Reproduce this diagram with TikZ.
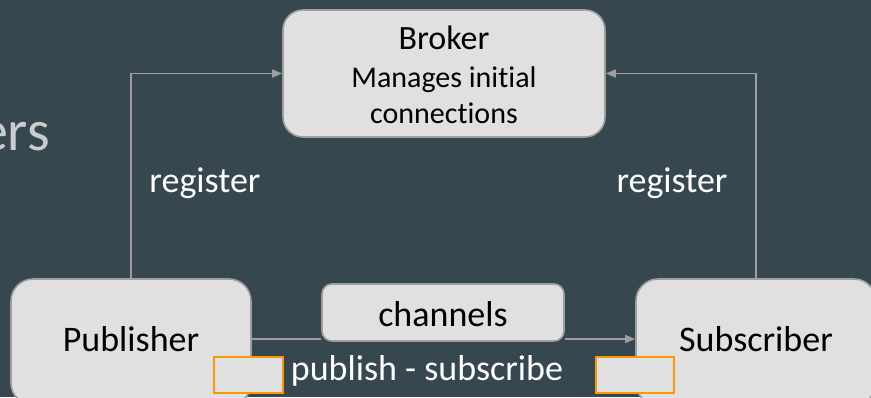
\documentclass[tikz,border=0pt]{standalone}
\usepackage{fontspec}
\setmainfont[Ligatures=NoCommon]{Carlito}
\usetikzlibrary{arrows.meta}
\definecolor{slate}{RGB}{55,71,79}
\definecolor{boxfill}{RGB}{224,224,224}
\definecolor{boxline}{RGB}{158,158,158}
\definecolor{faint}{RGB}{200,204,206}
\definecolor{accent}{RGB}{255,152,0}
\tikzset{
  card/.style={draw=boxline, fill=boxfill, line width=1.6pt, inner sep=0pt},
  conn/.style={draw=boxline, line width=1.5pt, -{Triangle[length=10pt,width=8pt]}},
  plain/.style={draw=boxline, line width=1.5pt},
  dark/.style={text=black, inner sep=0pt, anchor=base},
  light/.style={text=white, inner sep=0pt, anchor=base},
  marker/.style={draw=accent, fill=boxfill, line width=1.4pt, inner sep=0pt,
    minimum width=69pt, minimum height=36pt},
  big/.style={font=\fontsize{36}{43}\selectfont},
}
\begin{document}
\begin{tikzpicture}[x=1pt, y=-1pt]
  \useasboundingbox (0,0) rectangle (871,397);
  \fill[slate] (0,0) rectangle (871,397);
  \clip (0,0) rectangle (871,397);

  % heading fragment at the left edge
  \node[text=faint, inner sep=0pt, anchor=base east,
        font=\fontsize{58}{66}\selectfont] (heading) at (50,150) {ers};

  % boxes
  \node[card, rounded corners=20pt, minimum width=322pt, minimum height=127pt]
    (broker) at (444,73.5) {};
  \node[card, rounded corners=22pt, minimum width=240pt, minimum height=126pt]
    (pub) at (131,342) {};
  \node[card, rounded corners=22pt, minimum width=240pt, minimum height=126pt]
    (sub) at (756,342) {};
  \node[card, rounded corners=10pt, minimum width=242pt, minimum height=57pt]
    (chan) at (443,312.5) {};

  % box texts
  \node[dark, font=\fontsize{34}{40}\selectfont] (brokerTitle) at (444,49) {Broker};
  \node[dark, font=\fontsize{30}{36}\selectfont] (brokerLineA) at (444,87) {Manages initial};
  \node[dark, font=\fontsize{30}{36}\selectfont] (brokerLineB) at (444,123) {connections};
  \node[dark, big] (pubText) at (131,351.5) {Publisher};
  \node[dark, big] (subText) at (756,351.5) {Subscriber};
  \node[dark, big] (chanText) at (443,326) {channels};

  % registration links
  \draw[conn] (pub.north) |- (broker.west);
  \draw[conn] (sub.north) |- (broker.east);

  % message path through the channels
  \coordinate (row) at (0,339);
  \draw[plain] (pub.east |- row) -- (chan.west |- row);
  \draw[conn] (chan.east |- row) -- (sub.west |- row);

  % labels
  \node[light, big] (regL) at (205,192) {register};
  \node[light, big] (regR) at (672,192) {register};
  \node[light, big] (pubsub) at (427,380) {publish - subscribe};

  % highlighted markers
  \node[marker] (markL) at (248.5,375) {};
  \node[marker, minimum width=78pt] (markR) at (635,375) {};
\end{tikzpicture}
\end{document}
